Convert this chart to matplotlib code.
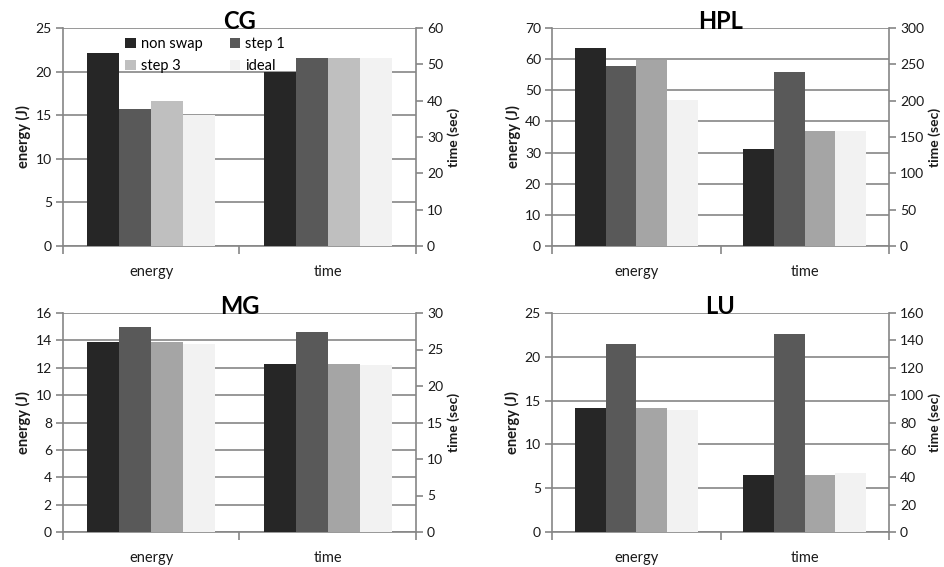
import numpy as np
import matplotlib.pyplot as plt
from matplotlib.ticker import FixedLocator, NullFormatter

plt.rcParams['font.family'] = ['Lato', 'DejaVu Sans']

series = ["non swap", "step 1", "step 3", "ideal"]
categories = ["energy", "time"]

cg_energy = [22.1, 15.7, 16.6, 15.0]
cg_time = [47.8, 51.7, 51.7, 51.7]
hpl_energy = [63.5, 57.7, 59.6, 46.9]
hpl_time = [133, 240, 158.5, 158.5]
mg_energy = [13.85, 14.95, 13.85, 13.75]
mg_time = [22.95, 27.35, 22.95, 22.9]
lu_energy = [14.2, 21.5, 14.2, 13.9]
lu_time = [41.3, 145, 41.3, 43.0]

grey_cg = ["#262626", "#595959", "#bfbfbf", "#f2f2f2"]
grey = ["#262626", "#595959", "#a5a5a5", "#f2f2f2"]

panels = [
    ("CG", cg_energy, cg_time, 25, 5, 60, 10, grey_cg),
    ("HPL", hpl_energy, hpl_time, 70, 10, 300, 50, grey),
    ("MG", mg_energy, mg_time, 16, 2, 30, 5, grey),
    ("LU", lu_energy, lu_time, 25, 5, 160, 20, grey),
]

# axes boxes in pixels: left, right, top, bottom
boxes = [(63, 416, 28, 246), (552, 889, 28, 246),
         (63, 416, 313, 532), (552, 889, 313, 532)]

W, H = 945, 567
fig = plt.figure(figsize=(W / 100, H / 100), dpi=100)

line_c = "#868686"
txt_c = "#1a1a1a"
bw = 0.182

for (name, en, tm, emax, estep, tmax, tstep, cols), (l, r, t, b) in zip(panels, boxes):
    ax = fig.add_axes([l / W, (H - b) / H, (r - l) / W, (b - t) / H])
    ax2 = ax.twinx()
    ax.set_zorder(ax2.get_zorder() - 1)
    ax.patch.set_visible(True)
    ax2.patch.set_visible(False)

    bars = []
    for i in range(4):
        off = (i - 1.5) * bw
        h1 = ax.bar(0.5 + off, en[i], bw, color=cols[i], label=series[i], zorder=3)
        ax2.bar(1.5 + off, tm[i], bw, color=cols[i], zorder=3)
        bars.append(h1)

    ax.set_xlim(0, 2)
    ax.set_ylim(0, emax)
    ax2.set_ylim(0, tmax)
    ax.set_yticks(np.arange(0, emax + 0.01, estep))
    ax2.set_yticks(np.arange(0, tmax + 0.01, tstep))
    ax.yaxis.grid(True, color=line_c, lw=1.2, zorder=0)
    ax.set_axisbelow(True)

    ax.xaxis.set_major_locator(FixedLocator([0, 1, 2]))
    ax.xaxis.set_major_formatter(NullFormatter())
    ax.xaxis.set_minor_locator(FixedLocator([0.5, 1.5]))
    ax.set_xticklabels(categories, minor=True)
    ax.tick_params(axis='x', which='major', length=6, width=1.2, color=line_c, direction='out')
    ax.tick_params(axis='x', which='minor', length=0, pad=14, labelsize=10.5, labelcolor=txt_c)
    ax.tick_params(axis='y', length=5, width=1.2, color=line_c, labelsize=10,
                   labelcolor=txt_c, pad=3)
    ax2.tick_params(axis='y', length=5, width=1.2, color=line_c, labelsize=10,
                    labelcolor=txt_c, pad=3)

    for a in (ax, ax2):
        a.spines['top'].set_visible(False)
        for s in ('left', 'right', 'bottom'):
            a.spines[s].set_color(line_c)
            a.spines[s].set_linewidth(1.2)
    ax.spines['right'].set_visible(False)
    ax2.spines['left'].set_visible(False)
    ax2.spines['bottom'].set_visible(False)

    ax.set_ylabel("energy (J)", fontsize=10.5, fontweight='bold', color=txt_c, labelpad=3)
    ax2.set_ylabel("time (sec)", fontsize=10, fontweight='bold', color=txt_c, labelpad=3)

    ax.text(0.5, 1.03, name, transform=ax.transAxes, ha='center', va='center',
            fontsize=17, fontweight='bold', color='black', zorder=10)

    if name == "CG":
        # matplotlib fills legend columns first; reorder so rows read across
        order = [0, 2, 1, 3]
        ax.legend(handles=[bars[k] for k in order], loc='upper left',
                  bbox_to_anchor=(0.16, 0.985), ncol=2,
                  frameon=False, fontsize=10.5, handlelength=0.7, handleheight=0.7,
                  handletextpad=0.35, columnspacing=1.9, labelspacing=0.55,
                  borderaxespad=0)

fig.savefig("out.png", dpi=100)
